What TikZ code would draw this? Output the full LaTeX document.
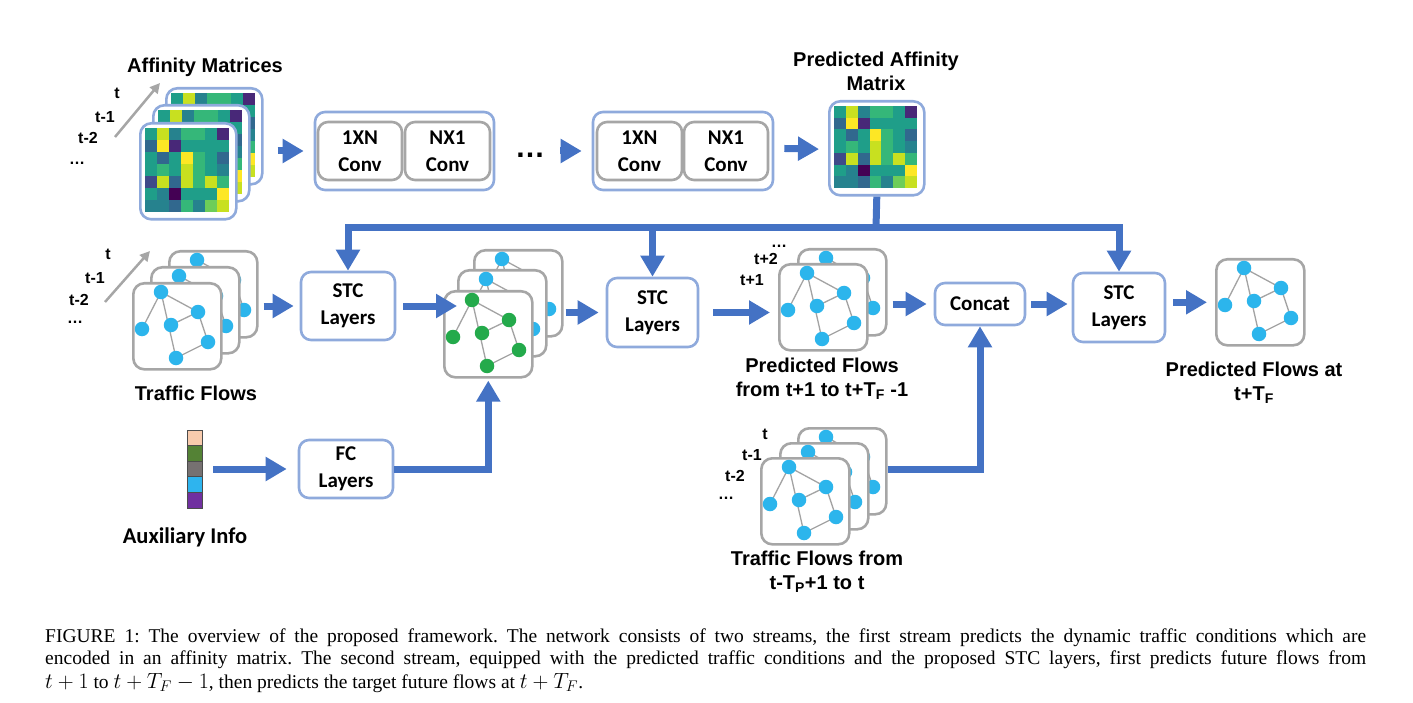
\RequirePackage{fix-cm}
\documentclass[tikz,border=0pt]{standalone}
\usepackage{fontspec}
\setmainfont{Liberation Serif}
\newfontfamily\arl{Liberation Sans}
\newfontfamily\carl{Carlito}
\usetikzlibrary{arrows.meta,calc}
\newcommand{\mth}[1]{{\fontsize{22}{22}\selectfont\smash{$#1$}}}
\definecolor{ablue}{HTML}{4472C4}
\definecolor{lblue}{HTML}{8FAADC}
\definecolor{fgray}{HTML}{A6A6A6}
\definecolor{egray}{HTML}{A3A3A3}
\definecolor{nblue}{HTML}{2CB5EC}
\definecolor{ngreen}{HTML}{24AA4B}
\definecolor{v0}{HTML}{440154}
\definecolor{v1}{HTML}{482878}
\definecolor{v2}{HTML}{3E4A89}
\definecolor{v3}{HTML}{31688E}
\definecolor{v4}{HTML}{26828E}
\definecolor{v5}{HTML}{1F9E89}
\definecolor{v6}{HTML}{35B779}
\definecolor{v7}{HTML}{6DCD59}
\definecolor{v8}{HTML}{C8E020}
\definecolor{v9}{HTML}{FDE725}
\definecolor{auxA}{HTML}{F8CBAD}
\definecolor{auxB}{HTML}{548235}
\definecolor{auxC}{HTML}{767171}
\definecolor{auxD}{HTML}{2EB4EE}
\definecolor{auxE}{HTML}{7030A0}
\tikzset{
 fr/.style={draw=fgray, line width=2.6pt, rounded corners=11pt, fill=white, minimum width=88pt, minimum height=86pt, inner sep=0pt},
 mfr/.style={draw=lblue, line width=2.6pt, rounded corners=11pt, fill=white, minimum width=96pt, minimum height=96pt, inner sep=0pt},
 gedge/.style={draw=egray, line width=1.3pt},
 gnode/.style={circle, minimum size=14.5pt, inner sep=0pt},
 bbox/.style={draw=lblue, line width=2.6pt, rounded corners=10pt, fill=white, align=center, font=\carl\bfseries\fontsize{21}{27}\selectfont, inner sep=0pt},
 cbox/.style={draw=fgray, line width=2.6pt, rounded corners=10pt, fill=white, align=center, font=\carl\bfseries\fontsize{21}{27}\selectfont, inner sep=0pt},
 barrow/.style={draw=ablue, line width=7pt, -{Triangle[width=23pt,length=21pt]}},
 bline/.style={draw=ablue, line width=7pt},
 tarrow/.style={draw=fgray, line width=2.5pt, -{Triangle[width=10pt,length=10pt]}},
 lab/.style={font=\arl\bfseries\fontsize{20}{24}\selectfont, align=center, inner sep=0pt},
 clab/.style={font=\carl\bfseries\fontsize{22.5}{27}\selectfont, align=center, inner sep=0pt},
 tlab/.style={font=\arl\bfseries\fontsize{16}{16}\selectfont, inner sep=0pt},
 auxc/.style={draw=black!70, line width=0.8pt, minimum width=15pt, minimum height=15.6pt, inner sep=0pt},
 capline/.style={font=\fontsize{19.5}{23}\selectfont\frenchspacing, inner sep=0pt, anchor=base west},
}
% affinity matrix frame: #1 name, #2 x, #3 y (top-left)
\newcommand{\affmat}[3]{%
  \node[mfr, anchor=north west] (#1) at (#2,#3) {};
  \foreach \c [count=\i from 0] in {v5,v8,v4,v6,v6,v5,v1,
                                    v3,v9,v1,v5,v5,v5,v5,
                                    v5,v3,v5,v9,v6,v5,v3,
                                    v5,v6,v5,v8,v6,v5,v4,
                                    v2,v8,v3,v8,v6,v8,v6,
                                    v5,v4,v0,v5,v5,v5,v9,
                                    v4,v4,v3,v6,v4,v7,v8} {
    \pgfmathtruncatemacro\cc{mod(\i,7)}
    \pgfmathtruncatemacro\rr{floor(\i/7)}
    \fill[\c] ($(#1.north west)+(6+12*\cc,6+12*\rr)$) rectangle ++(12,12);
  }%
}
% flow graph frame: #1 name, #2 x, #3 y (top-left), #4 node colour
\newcommand{\flowfr}[4]{%
  \node[fr, anchor=north west] (#1) at (#2,#3) {};
  \coordinate (#1a) at ($(#1.north west)+(29,10)$);
  \coordinate (#1b) at ($(#1.north west)+(66,30)$);
  \coordinate (#1c) at ($(#1.north west)+(10,47)$);
  \coordinate (#1d) at ($(#1.north west)+(39,43)$);
  \coordinate (#1e) at ($(#1.north west)+(76,60)$);
  \coordinate (#1f) at ($(#1.north west)+(44,76)$);
  \draw[gedge] (#1a) -- (#1c) (#1a) -- (#1b) (#1a) -- (#1f) (#1d) -- (#1b) (#1b) -- (#1e) (#1e) -- (#1f);
  \foreach \p in {a,b,c,d,e,f} \node[gnode, fill=#4] (#1n\p) at (#1\p) {};%
}
\begin{document}
\begin{tikzpicture}[x=1pt,y=-1pt]
\useasboundingbox (0,0) rectangle (1413,703);

% ---------- top stream ----------
\node[lab, anchor=north] (labaff) at (205,58) {Affinity Matrices};
\node[tlab] (at0) at (117,93) {t};
\node[tlab] (at1) at (105,117) {t-1};
\node[tlab] (at2) at (88,138) {t-2};
\node[tlab] (at3) at (77,163) {…};
\coordinate (ta1s) at (115,137);
\coordinate (ta1e) at (160,83);
\draw[tarrow] (ta1s) -- (ta1e);

\affmat{amb}{165}{87}
\affmat{amm}{152}{104}
\affmat{amf}{139}{122}

\node[bbox, minimum width=179pt, minimum height=78pt] (conv1) at (404.5,151) {};
\node[cbox, minimum width=84pt, minimum height=58pt] (c1a) at (360,151) {1XN\\Conv};
\node[cbox, minimum width=85pt, minimum height=58pt] (c1b) at (447.5,151) {NX1\\Conv};

\node[font=\arl\bfseries\fontsize{30}{30}\selectfont, inner sep=0pt] (dots) at (530,155) {…};

\node[bbox, minimum width=180pt, minimum height=78pt] (conv2) at (683,151) {};
\node[cbox, minimum width=85pt, minimum height=58pt] (c2a) at (639.5,151) {1XN\\Conv};
\node[cbox, minimum width=84pt, minimum height=58pt] (c2b) at (726,151) {NX1\\Conv};

\node[lab, anchor=north] (labpam) at (876,52) {Predicted Affinity\\Matrix};
\node[mfr, minimum width=95pt, minimum height=94pt, anchor=north west] (pam) at (828,100) {};
\foreach \c [count=\i from 0] in {v5,v8,v4,v6,v6,v5,v1,
                                  v3,v9,v1,v5,v5,v5,v5,
                                  v5,v3,v5,v9,v6,v5,v3,
                                  v5,v6,v5,v8,v6,v5,v4,
                                  v2,v8,v3,v8,v6,v8,v6,
                                  v5,v4,v0,v5,v5,v5,v9,
                                  v4,v4,v3,v6,v4,v7,v8} {
  \pgfmathtruncatemacro\cc{mod(\i,7)}
  \pgfmathtruncatemacro\rr{floor(\i/7)}
  \fill[\c] ($(pam.north west)+(6+11.86*\cc,6+11.72*\rr)$) rectangle ++(11.86,11.72);
}

\draw[barrow, shorten <=14pt, shorten >=10pt] (amb.east |- conv1.west) -- (conv1.west);
\draw[barrow, shorten <=15pt, shorten >=10pt] ($(dots.east)+(0,-4)$ |- conv2.west) -- (conv2.west);
\draw[barrow, shorten <=10pt, shorten >=9pt] (conv2.east |- pam.west) -- ($(pam.west)+(0,1)$);

% ---------- middle stream ----------
\node[tlab] (bt0) at (108,254) {t};
\node[tlab] (bt1) at (95,278) {t-1};
\node[tlab] (bt2) at (79,300) {t-2};
\node[tlab] (bt3) at (75,322) {…};
\coordinate (ta2s) at (105,302);
\coordinate (ta2e) at (150,251);
\draw[tarrow] (ta2s) -- (ta2e);

\flowfr{tfb}{168}{250}{nblue}
\flowfr{tfm}{150}{266}{nblue}
\flowfr{tff}{132}{282}{nblue}
\node[lab, anchor=north] (labtf) at (196,386) {Traffic Flows};

\node[bbox, minimum width=94pt, minimum height=68pt] (stc1) at (348,306) {STC\\Layers};

\flowfr{gfb}{473}{249}{nblue}
\flowfr{gfm}{457}{269}{nblue}
\flowfr{gff}{443}{290}{ngreen}

\node[bbox, minimum width=91pt, minimum height=69pt] (stc2) at (652.5,312.5) {STC\\Layers};

\flowfr{pfb}{797}{248}{nblue}
\flowfr{pff}{778}{263}{nblue}
\node[tlab] (pt0) at (779,246) {…};
\node[tlab] (pt1) at (766,259) {t+2};
\node[tlab] (pt2) at (752,280) {t+1};
\node[lab, anchor=north] (labpf) at (822,358) {Predicted Flows\\from t+1 to t+T\textsubscript{F} -1};

\node[bbox, minimum width=90pt, minimum height=42pt] (concat) at (980,304) {Concat};
\node[bbox, minimum width=92pt, minimum height=69pt] (stc3) at (1119,307.5) {STC\\Layers};

\flowfr{fin}{1215}{258}{nblue}
\node[lab, anchor=north] (labfin) at (1254,362) {Predicted Flows at\\t+T\textsubscript{F}};

\draw[barrow, shorten <=5pt, shorten >=6pt] (tfb.east |- stc1.west) -- (stc1.west);
\draw[barrow, shorten <=7pt, shorten >=0pt] (stc1.east) -- (stc1.east -| gfm.west);
\draw[barrow, shorten <=2pt, shorten >=7pt] (gfb.east |- stc2.west) -- (stc2.west);
\draw[barrow, shorten <=14pt, shorten >=8pt] (stc2.east) -- (stc2.east -| pff.west);
\draw[barrow, shorten <=5pt, shorten >=7pt] (pfb.east |- concat.west) -- (concat.west);
\draw[barrow, shorten <=5pt, shorten >=4pt] (concat.east) -- (concat.east -| stc3.west);
\draw[barrow, shorten <=7pt, shorten >=8pt] (stc3.east |- fin.west) -- (fin.west);

% predicted affinity to STC layers
\coordinate (hub) at (876,228);
\draw[bline] (pam.south) -- (hub);
\draw[barrow] (hub) -| (stc1.north);
\draw[barrow] (hub) -| (stc2.north);
\draw[barrow] (hub) -| (stc3.north);

% ---------- auxiliary ----------
\node[auxc, fill=auxA] (aux1) at (194.5,437.8) {};
\node[auxc, fill=auxB] (aux2) at (194.5,453.4) {};
\node[auxc, fill=auxC] (aux3) at (194.5,469) {};
\node[auxc, fill=auxD] (aux4) at (194.5,484.6) {};
\node[auxc, fill=auxE] (aux5) at (194.5,500.2) {};
\node[clab, anchor=north] (labaux) at (185,528) {Auxiliary Info};

\node[bbox, minimum width=94pt, minimum height=58pt] (fc) at (346,469) {FC\\Layers};
\draw[barrow, shorten <=11pt, shorten >=11pt] (aux3.east |- fc.west) -- (fc.west);
\draw[barrow, shorten >=2pt] (fc.east) -| (gff.south);

% ---------- bottom traffic flows ----------
\flowfr{bfb}{797}{427}{nblue}
\flowfr{bfm}{779}{442}{nblue}
\flowfr{bff}{760}{457}{nblue}
\node[tlab] (ct0) at (765,434) {t};
\node[tlab] (ct1) at (752,455) {t-1};
\node[tlab] (ct2) at (735,476) {t-2};
\node[tlab] (ct3) at (726,498) {…};
\node[lab, anchor=north] (labbf) at (817,551) {Traffic Flows from\\t-T\textsubscript{P}+1 to t};
\draw[barrow] ($(bfb.east)+(0,-2)$) -| (concat.south);

% ---------- caption ----------
\node[capline] (cap1) at (45,642) {\makebox[1321pt][s]{FIGURE 1: The overview of the proposed framework. The network consists of two streams, the first stream predicts the dynamic traffic conditions which are}};
\node[capline] (cap2) at (45,664) {\makebox[1321pt][s]{encoded in an affinity matrix. The second stream, equipped with the predicted traffic conditions and the proposed STC layers, first predicts future flows from}};
\node[capline] (cap3) at (45,688) {\mth{t+1} to \mth{t+T_F-1}, then predicts the target future flows at \mth{t+T_F}.};
\end{tikzpicture}
\end{document}
